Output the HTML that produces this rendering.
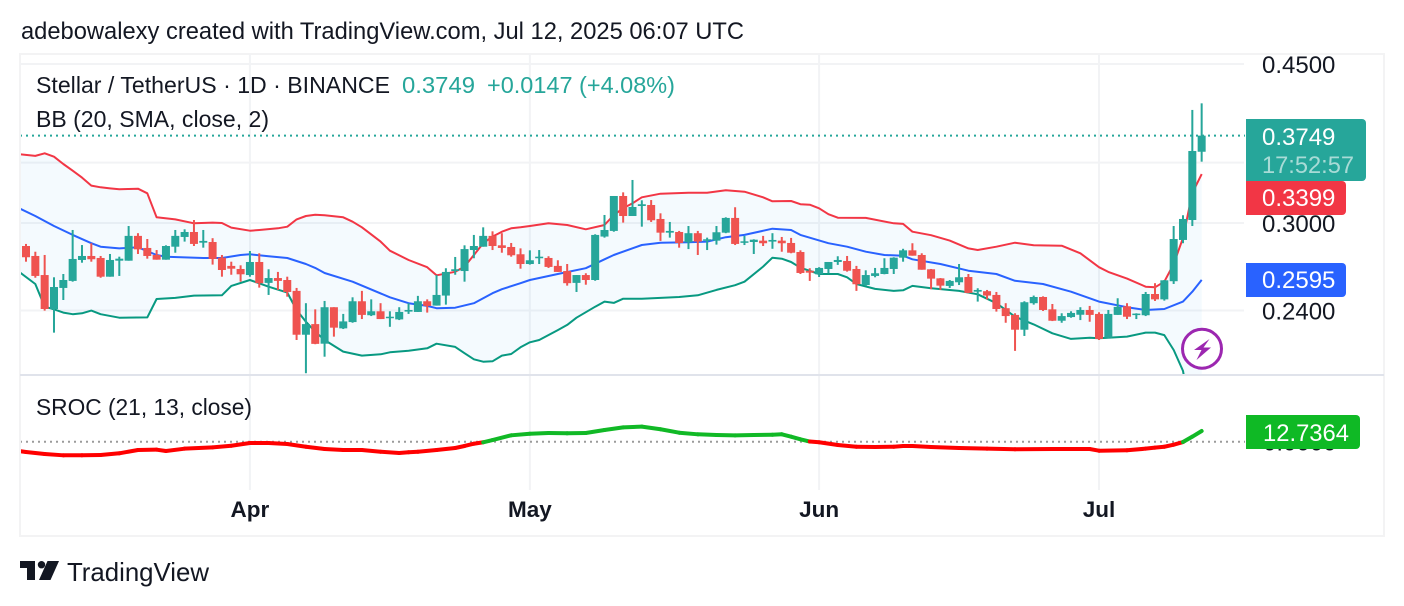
<!DOCTYPE html>
<html lang="en">
<head>
<meta charset="utf-8">
<title>Stellar / TetherUS chart</title>
<style>
html,body{margin:0;padding:0;background:#fff;width:1404px;height:606px;overflow:hidden}
svg{display:block}
text{font-family:"Liberation Sans",Arial,sans-serif;font-size:24px;fill:#131722}
</style>
</head>
<body>
<svg id="chart" xmlns="http://www.w3.org/2000/svg" width="1404" height="606" viewBox="0 0 1404 606">
  <defs>
    <clipPath id="mainClip"><rect x="21" y="55" width="1224" height="320"/></clipPath>
    <clipPath id="subClip"><rect x="21" y="377" width="1224" height="113"/></clipPath>
  </defs>
  <rect x="0" y="0" width="1404" height="606" fill="#ffffff"/>
  <text x="21" y="39" font-size="24" style="font-size:24px" textLength="723" lengthAdjust="spacingAndGlyphs">adebowalexy created with TradingView.com, Jul 12, 2025 06:07 UTC</text>
  <rect x="20" y="54" width="1364" height="482" fill="none" stroke="#f3f3f4" stroke-width="2"/>
  <g id="grid"></g>
  <g id="mainPane" clip-path="url(#mainClip)"></g>
  <g id="subPane" clip-path="url(#subClip)"></g>
  <rect x="20" y="374" width="1364" height="2" fill="#e0e3eb"/>
  <text x="36" y="93" style="font-size:23.5px" textLength="354" lengthAdjust="spacingAndGlyphs">Stellar / TetherUS · 1D · BINANCE</text>
  <text x="402" y="93" style="font-size:23.5px;fill:#26a69a" textLength="73" lengthAdjust="spacingAndGlyphs">0.3749</text>
  <text x="487" y="93" style="font-size:23.5px;fill:#26a69a" textLength="188" lengthAdjust="spacingAndGlyphs">+0.0147 (+4.08%)</text>
  <text x="36" y="127" style="font-size:23.5px" textLength="233" lengthAdjust="spacingAndGlyphs">BB (20, SMA, close, 2)</text>
  <text x="36" y="415" style="font-size:23.5px" textLength="216" lengthAdjust="spacingAndGlyphs">SROC (21, 13, close)</text>
  <g id="priceAxis"></g>
  <g id="timeAxis"></g>
  <g>
    <path d="M1246 119H1362a4 4 0 0 1 4 4V177a4 4 0 0 1-4 4H1246Z" fill="#26a69a"/>
    <text x="1262" y="145" style="fill:#ffffff">0.3749</text>
    <text x="1262" y="173" style="fill:#a8dbd6" textLength="92" lengthAdjust="spacingAndGlyphs">17:52:57</text>
  </g>
  <g>
    <path d="M1246 181H1342a4 4 0 0 1 4 4V211a4 4 0 0 1-4 4H1246Z" fill="#f23645"/>
    <text x="1262" y="206" style="fill:#ffffff">0.3399</text>
  </g>
  <g>
    <path d="M1246 263H1342a4 4 0 0 1 4 4V293a4 4 0 0 1-4 4H1246Z" fill="#2962ff"/>
    <text x="1262" y="288" style="fill:#ffffff">0.2595</text>
  </g>
  <text x="1263" y="450.5">0.0000</text>
  <g>
    <path d="M1246 415H1356a4 4 0 0 1 4 4V445a4 4 0 0 1-4 4H1246Z" fill="#0fb925"/>
    <text x="1263" y="441" style="fill:#ffffff" textLength="86" lengthAdjust="spacingAndGlyphs">12.7364</text>
  </g>
  <g>
    <circle cx="1202" cy="348.7" r="19.5" fill="#ffffff" stroke="#9c27b0" stroke-width="3"/>
    <polygon points="1209.5,339 1194,350 1201.5,350 1196.5,360 1211,347.5 1203.5,347.5" fill="#9c27b0"/>
  </g>
  <g>
    <path d="M20 561H35V580H27V568H20Z" fill="#131722"/>
    <circle cx="41.5" cy="564.7" r="3.7" fill="#131722"/>
    <polygon points="47.5,561 59,561 50.5,580 39,580" fill="#131722"/>
  </g>
  <text x="67" y="581" style="font-size:26px" textLength="142" lengthAdjust="spacingAndGlyphs">TradingView</text>
</svg>
<script>
// Candles: one entry per daily bar, index 0 = first visible bar
const opens = [
.2829,.2758,.2627,.2409,.2542,.2588,.2730,.2758,.2744,.2616,
.2725,.2725,.2903,.2815,.2765,.2732,.2824,.2895,.2932,.2853,
.2858,.2746,.2689,.2668,.2627,.2716,.2575,.2607,.2594,.2523,
.2256,.2318,.2205,.2420,.2293,.2330,.2457,.2371,.2395,.2354,
.2346,.2393,.2391,.2457,.2430,.2493,.2654,.2654,.2800,.2824,
.2903,.2834,.2822,.2770,.2702,.2742,.2744,.2689,.2654,.2575,
.2627,.2594,.2898,.2940,.3214,.3054,.3133,.3141,.3031,.2927,
.2932,.2856,.2923,.2868,.2868,.2927,.3039,.2853,.2858,.2868,
.2861,.2868,.2851,.2786,.2656,.2632,.2668,.2716,.2723,.2668,
.2561,.2621,.2634,.2668,.2746,.2798,.2765,.2666,.2605,.2555,
.2579,.2614,.2518,.2521,.2497,.2414,.2373,.2285,.2445,.2484,
.2407,.2338,.2360,.2374,.2403,.2379,.2239,.2373,.2426,.2373,
.2371,.2503,.2469,.2586,.2873,.3023,.3598];
const highs = [
.2844,.2788,.2765,.2612,.2634,.2947,.2836,.2849,.2758,.2772,
.2753,.2977,.2923,.2880,.2800,.2834,.2947,.2952,.3023,.2947,
.2886,.2765,.2718,.2693,.2793,.2777,.2666,.2648,.2616,.2542,
.2445,.2407,.2459,.2420,.2379,.2482,.2523,.2469,.2445,.2395,
.2420,.2445,.2491,.2469,.2627,.2673,.2751,.2834,.2910,.2967,
.2937,.2923,.2851,.2812,.2798,.2800,.2756,.2728,.2702,.2627,
.2639,.2915,.3062,.3214,.3244,.3348,.3179,.3181,.3075,.3008,
.2940,.2977,.2940,.2890,.2977,.3044,.3123,.2903,.2878,.2903,
.2923,.2895,.2888,.2798,.2673,.2680,.2716,.2756,.2758,.2689,
.2659,.2675,.2742,.2749,.2809,.2849,.2777,.2668,.2607,.2594,
.2702,.2634,.2540,.2529,.2516,.2445,.2383,.2457,.2493,.2488,
.2440,.2383,.2395,.2420,.2428,.2389,.2403,.2476,.2445,.2383,
.2516,.2573,.2594,.2977,.3060,.4003,.4071];
const lows = [
.2718,.2609,.2399,.2268,.2465,.2583,.2711,.2718,.2609,.2616,
.2621,.2725,.2772,.2739,.2732,.2732,.2781,.2861,.2829,.2817,
.2698,.2616,.2629,.2583,.2616,.2544,.2497,.2529,.2486,.2226,
.2045,.2202,.2133,.2245,.2289,.2326,.2348,.2366,.2348,.2302,
.2342,.2379,.2391,.2387,.2430,.2436,.2629,.2583,.2742,.2824,
.2800,.2781,.2753,.2670,.2698,.2702,.2675,.2648,.2557,.2516,
.2563,.2589,.2890,.2934,.3003,.3054,.2972,.3008,.2866,.2890,
.2817,.2807,.2765,.2800,.2839,.2923,.2836,.2836,.2772,.2829,
.2809,.2788,.2777,.2634,.2588,.2614,.2639,.2696,.2650,.2523,
.2555,.2612,.2632,.2634,.2718,.2760,.2663,.2534,.2529,.2542,
.2561,.2508,.2455,.2469,.2393,.2326,.2165,.2249,.2436,.2397,
.2336,.2326,.2356,.2342,.2332,.2226,.2236,.2373,.2348,.2348,
.2366,.2459,.2461,.2568,.2849,.2977,.3508];
const closes = [
.2749,.2621,.2409,.2548,.2594,.2737,.2758,.2735,.2616,.2730,
.2739,.2903,.2805,.2758,.2732,.2829,.2903,.2932,.2844,.2866,
.2737,.2661,.2670,.2632,.2716,.2573,.2607,.2588,.2516,.2256,
.2318,.2204,.2420,.2297,.2334,.2457,.2373,.2395,.2348,.2362,
.2391,.2403,.2457,.2428,.2497,.2648,.2666,.2807,.2829,.2903,
.2829,.2815,.2763,.2702,.2728,.2753,.2682,.2648,.2573,.2627,
.2594,.2910,.2947,.3214,.3054,.3125,.3147,.3021,.2927,.2940,
.2851,.2923,.2861,.2878,.2930,.3039,.2844,.2863,.2875,.2849,
.2873,.2849,.2781,.2641,.2643,.2675,.2716,.2730,.2656,.2566,
.2627,.2639,.2675,.2746,.2798,.2760,.2663,.2603,.2557,.2588,
.2612,.2510,.2529,.2493,.2409,.2366,.2285,.2451,.2484,.2403,
.2338,.2366,.2385,.2403,.2373,.2232,.2379,.2422,.2362,.2381,
.2503,.2469,.2592,.2880,.3031,.3605,.3749];

// Bollinger upper band, read at the listed bar numbers
const upperBars = [-1,1,2,3,4,5,6,7,8,9,10,11,12,13,14,16,18,20,21,22,24,25,27,28,29,30,31,32,34,35,36,38,39,41,43,44,46,47,48,49,50,51,52,53,54,56,58,60,62,63,64,65,66,68,71,73,75,77,79,80,82,83,84,85,86,87,90,93,94,95,97,99,101,102,104,106,108,111,113,115,116,118,120,121,122,123,124,125,126];
const upperValues = [.3578,.3560,.3584,.3553,.3487,.3428,.3368,.3300,.3286,.3277,.3269,.3272,.3274,.3236,.3044,.3028,.2998,.3003,.3000,.2965,.2942,.2947,.2960,.2972,.3028,.3054,.3064,.3060,.3044,.3010,.2967,.2861,.2795,.2730,.2680,.2625,.2649,.2684,.2765,.2849,.2898,.2934,.2960,.2967,.2977,.2998,.2985,.2952,.2985,.3062,.3115,.3155,.3203,.3233,.3241,.3241,.3261,.3249,.3203,.3171,.3173,.3147,.3143,.3115,.3068,.3041,.3039,.2998,.2993,.2934,.2908,.2868,.2812,.2800,.2824,.2853,.2834,.2831,.2777,.2680,.2648,.2603,.2550,.2546,.2583,.2702,.2888,.3238,.3399];

// Bollinger basis (SMA 20)
const basisBars = [-1,1,3,5,7,8,10,12,14,15,19,21,23,24,26,28,30,31,32,35,39,41,43,44,46,48,50,51,53,54,57,60,62,63,66,68,71,73,75,77,80,82,83,86,88,90,92,94,95,98,101,104,106,109,112,115,118,120,122,124,125,126];
const basisValues = [.3125,.3054,.2977,.2910,.2849,.2824,.2812,.2820,.2765,.2753,.2744,.2744,.2765,.2770,.2756,.2744,.2702,.2675,.2641,.2583,.2482,.2445,.2428,.2414,.2417,.2445,.2508,.2534,.2573,.2594,.2634,.2673,.2735,.2765,.2836,.2853,.2856,.2861,.2893,.2910,.2957,.2947,.2910,.2849,.2824,.2788,.2765,.2760,.2735,.2702,.2656,.2634,.2589,.2568,.2518,.2455,.2420,.2403,.2409,.2455,.2518,.2595];

// Bollinger lower band
const lowerBars = [-1,1,2,3,4,5,6,7,8,10,13,14,16,18,21,22,24,26,28,29,30,31,32,34,36,38,39,41,43,44,46,47,48,49,50,51,52,53,54,55,57,58,59,61,62,63,64,66,70,72,74,76,77,79,80,81,82,83,85,87,88,89,91,93,94,95,97,100,102,104,106,108,110,112,114,115,118,120,121,122,123,124,125,126];
const lowerValues = [.2661,.2568,.2423,.2407,.2387,.2377,.2383,.2399,.2377,.2356,.2358,.2471,.2478,.2493,.2495,.2555,.2594,.2550,.2512,.2403,.2332,.2273,.2226,.2161,.2139,.2146,.2157,.2166,.2179,.2205,.2187,.2152,.2119,.2106,.2108,.2139,.2148,.2185,.2213,.2226,.2283,.2313,.2356,.2423,.2455,.2447,.2473,.2473,.2484,.2495,.2529,.2560,.2583,.2684,.2746,.2739,.2716,.2677,.2634,.2634,.2612,.2568,.2536,.2523,.2527,.2555,.2540,.2523,.2501,.2445,.2362,.2316,.2264,.2232,.2239,.2236,.2245,.2268,.2268,.2254,.2170,.2057,.1798,.1791];

// Smoothed rate of change
const srocBars = [-1,0,2,4,6,8,10,12,14,15,17,20,22,24,26,28,30,32,34,36,38,40,41,42,44,46,47,48,49,50,52,54,56,58,60,62,64,66,68,70,72,74,76,78,80,81,82,83,84,85,87,89,91,93,94,95,97,100,103,106,110,114,115,118,120,121,122,123,124,125,126];
const srocValues = [-10.7,-12.3,-14.6,-16.2,-16.2,-15.8,-13.8,-9.9,-9.5,-11.1,-8.3,-6.7,-4.8,-1.5,-1.5,-2.7,-6.0,-8.7,-9.9,-9.9,-11.9,-13.5,-12.6,-11.9,-9.9,-7.5,-5.1,-2.4,-0.7,2.0,7.6,9.5,10.4,10.0,10.4,13.9,17.1,17.9,14.8,10.7,8.8,8.0,7.6,8.0,8.3,8.8,6.0,2.9,0.2,-0.7,-3.9,-6.0,-6.3,-6.0,-5.1,-5.1,-6.3,-7.5,-8.3,-9.0,-8.7,-8.7,-10.7,-10.2,-8.3,-7.1,-6.0,-3.6,-0.4,6.0,12.7364];

// Axis ticks and labels
const priceTicks = [0.45, 0.35, 0.30, 0.24];
const priceTickLabels = ['0.4500', '0.3500', '0.3000', '0.2400'];
const timeTickBars = [24, 54, 85, 115];
const timeTickLabels = ['Apr', 'May', 'Jun', 'Jul'];

// Axis functions
function xAt(bar) { return 26 + 9.3306 * bar; }
function yPrice(p) { return 223 - 392 * Math.log(p / 0.3); }
function ySroc(v) { return 441.7 - 0.84 * v; }

const NS = 'http://www.w3.org/2000/svg';
function make(tag, attrs, parent) {
  const el = document.createElementNS(NS, tag);
  for (const k in attrs) el.setAttribute(k, attrs[k]);
  parent.appendChild(el);
  return el;
}
const grid = document.getElementById('grid');
const mainPane = document.getElementById('mainPane');
const subPane = document.getElementById('subPane');
const priceAxis = document.getElementById('priceAxis');
const timeAxis = document.getElementById('timeAxis');

// Grid and axis labels
priceTicks.forEach(function (tick, i) {
  const y = yPrice(tick);
  const line = make('line', {x1: 20, x2: 1244, y1: y, y2: y, stroke: '#f2f3f5', 'stroke-width': 2}, grid);
  
  
  const label = make('text', {x: 1262, y: y + 9}, priceAxis);
  label.textContent = priceTickLabels[i];
  
  
});
timeTickBars.forEach(function (bar, i) {
  const x = xAt(bar);
  const line = make('line', {x1: x, x2: x, y1: 54, y2: 490, stroke: '#f2f3f5', 'stroke-width': 2}, grid);
  
  
  const label = make('text', {x: x, y: 517, 'text-anchor': 'middle', style: 'font-weight:bold;font-size:22.5px'}, timeAxis);
  label.textContent = timeTickLabels[i];
  
  
});

// Bollinger fill and lines
function pts(bars, values) {
  return bars.map(function (b, i) { return xAt(b).toFixed(1) + ',' + yPrice(values[i]).toFixed(1); });
}
const upperPts = pts(upperBars, upperValues);
const lowerPts = pts(lowerBars, lowerValues);
const basisPts = pts(basisBars, basisValues);

const bandFill = make('polygon', {points: upperPts.concat(lowerPts.slice().reverse()).join(' '), fill: '#2196f3', 'fill-opacity': 0.05}, mainPane);



const upperLine = make('polyline', {points: upperPts.join(' '), fill: 'none', stroke: '#f23645', 'stroke-width': 2, 'stroke-linejoin': 'round'}, mainPane);



const basisLine = make('polyline', {points: basisPts.join(' '), fill: 'none', stroke: '#2962ff', 'stroke-width': 2, 'stroke-linejoin': 'round'}, mainPane);



const lowerLine = make('polyline', {points: lowerPts.join(' '), fill: 'none', stroke: '#089981', 'stroke-width': 2, 'stroke-linejoin': 'round'}, mainPane);



// Last price line
const lastY = yPrice(closes[closes.length - 1]);
const priceLine = make('line', {x1: 20, x2: 1246, y1: lastY, y2: lastY, stroke: '#26a69a', 'stroke-width': 2, 'stroke-dasharray': '2 4'}, mainPane);



// Candles
closes.forEach(function (close, i) {
  const x = xAt(i);
  const open = opens[i];
  const up = close >= open;
  const color = up ? '#26a69a' : '#ef5350';
  const wick = make('rect', {x: x - 1, y: yPrice(highs[i]), width: 2, height: yPrice(lows[i]) - yPrice(highs[i]), fill: color}, mainPane);
  
  
  const top = yPrice(Math.max(open, close));
  const bottom = yPrice(Math.min(open, close));
  const body = make('rect', {x: x - 4, y: top, width: 8, height: Math.max(bottom - top, 1.5), fill: color}, mainPane);
  
  
});

// SROC zero line and line segments
const zeroLine = make('line', {x1: 20, x2: 1246, y1: ySroc(0), y2: ySroc(0), stroke: '#9b9b9b', 'stroke-width': 2, 'stroke-dasharray': '2 4'}, subPane);


for (let i = 1; i < srocBars.length; i++) {
  const seg = make('line', {
    x1: xAt(srocBars[i - 1]), y1: ySroc(srocValues[i - 1]),
    x2: xAt(srocBars[i]), y2: ySroc(srocValues[i]),
    stroke: srocValues[i] >= 0 ? '#11b926' : '#ff0000',
    'stroke-width': 4, 'stroke-linecap': 'round'
  }, subPane);
  
  
}
</script>
</body>
</html>
